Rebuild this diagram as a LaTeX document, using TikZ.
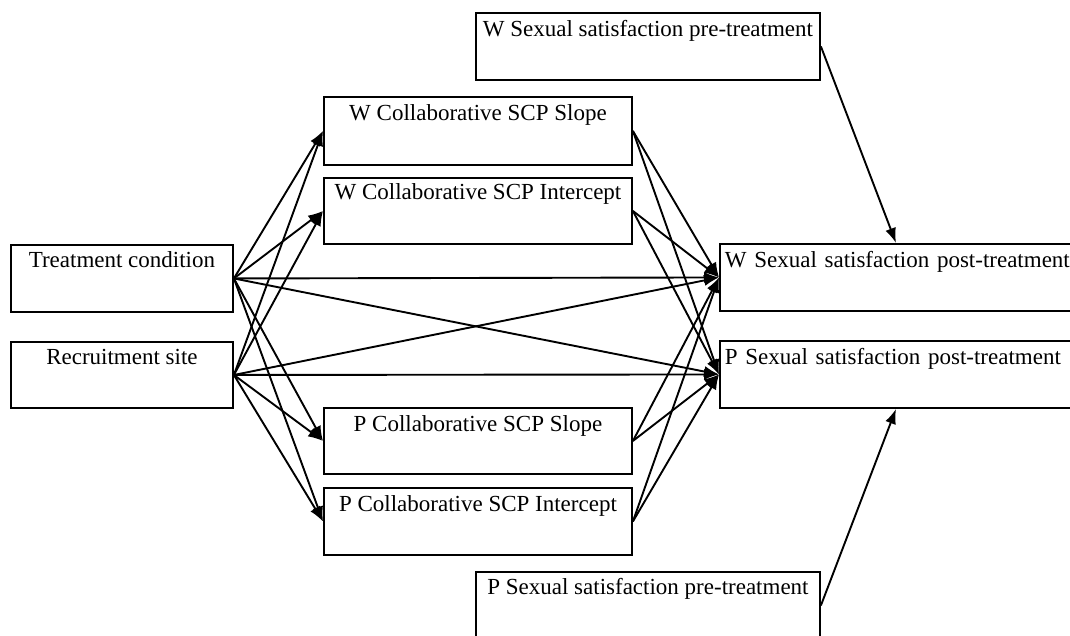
\documentclass[tikz,border=0pt]{standalone}
\usepackage{fontspec}
\setmainfont{Liberation Serif}
\usetikzlibrary{arrows.meta,calc}
\begin{document}
\begin{tikzpicture}[x=1pt,y=-1pt,
  box/.style={draw, line width=1.9pt, rectangle, anchor=north west, inner xsep=0pt, inner ysep=0pt, align=center, font=\fontsize{23}{27}\selectfont},
  leftbox/.style={box, text width=360pt, align=left, inner xsep=5pt},
  conn/.style={line width=1.9pt, -{Latex[length=15pt,width=11pt]}}]
\useasboundingbox (0,0) rectangle (1070,635);
\clip (0,0) rectangle (1070,635);
\node[box, minimum width=344pt, text height=24pt, text depth=43pt] (wpre) at (475,12) {W Sexual satisfaction pre-treatment};
\node[box, minimum width=308pt, text height=24pt, text depth=44pt] (ws) at (323,96) {W Collaborative SCP Slope};
\node[box, minimum width=308pt, text height=22pt, text depth=44pt] (wi) at (323,177) {W Collaborative SCP Intercept};
\node[box, minimum width=222pt, text height=23pt, text depth=44pt] (tc) at (10,244) {Treatment condition};
\node[box, minimum width=222pt, text height=23pt, text depth=43pt] (rs) at (10,341) {Recruitment site};
\node[box, minimum width=308pt, text height=24pt, text depth=42pt] (ps) at (323,407) {P Collaborative SCP Slope};
\node[box, minimum width=308pt, text height=24pt, text depth=43pt] (pi) at (323,487) {P Collaborative SCP Intercept};
\node[box, minimum width=344pt, text height=23pt, text depth=44pt] (ppre) at (475,571) {P Sexual satisfaction pre-treatment};
\node[leftbox, text height=24pt, text depth=43pt] (wpost) at (719,243) {W Sexual satisfaction post-treatment};
\node[leftbox, text height=24pt, text depth=43pt] (ppost) at (719,340) {P Sexual satisfaction post-treatment};
\foreach \s in {tc,rs}{
  \foreach \t in {ws,wi,ps,pi,wpost,ppost}{
    \draw[conn] (\s.east) -- (\t.west);
  }
}
\foreach \s in {ws,wi,ps,pi}{
  \foreach \t in {wpost,ppost}{
    \draw[conn] (\s.east) -- (\t.west);
  }
}
\draw[conn] (wpre.east) -- ($(wpost.north west)+(177,0)$);
\draw[conn] (ppre.east) -- ($(ppost.south west)+(177,0)$);
\end{tikzpicture}
\end{document}
